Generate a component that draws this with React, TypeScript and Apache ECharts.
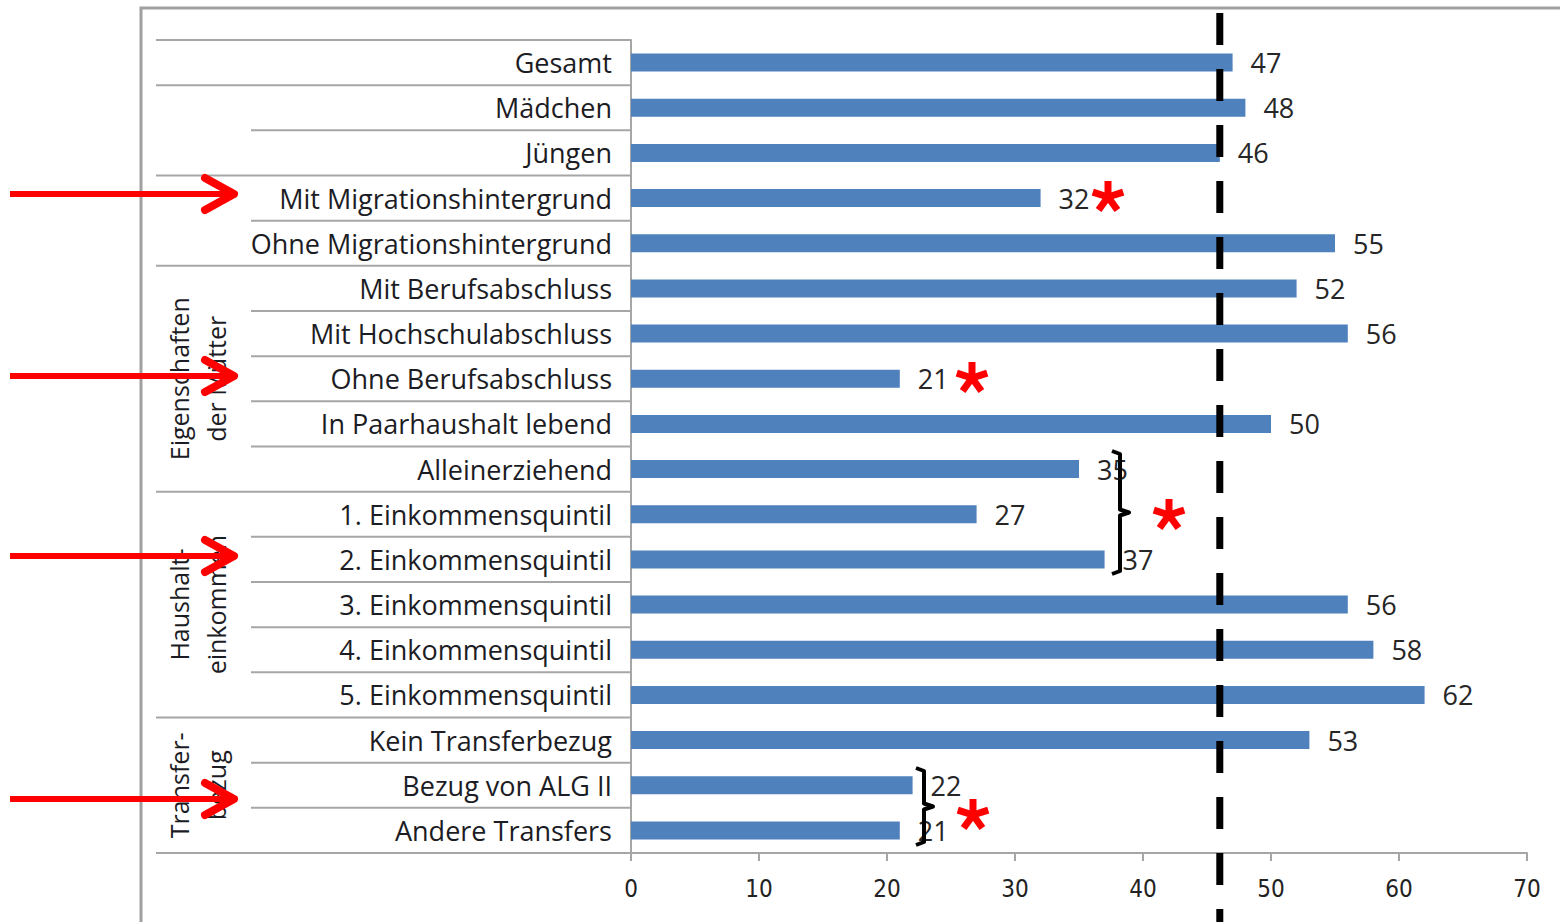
import React, { useEffect, useRef } from "react";
import * as echarts from "echarts";

const categories = [
  "Gesamt",
  "Mädchen",
  "Jüngen",
  "Mit Migrationshintergrund",
  "Ohne Migrationshintergrund",
  "Mit Berufsabschluss",
  "Mit Hochschulabschluss",
  "Ohne Berufsabschluss",
  "In Paarhaushalt lebend",
  "Alleinerziehend",
  "1. Einkommensquintil",
  "2. Einkommensquintil",
  "3. Einkommensquintil",
  "4. Einkommensquintil",
  "5. Einkommensquintil",
  "Kein Transferbezug",
  "Bezug von ALG II",
  "Andere Transfers",
];
const values = [47, 48, 46, 32, 55, 52, 56, 21, 50, 35, 27, 37, 56, 58, 62, 53, 22, 21];
const referenceValue = 46;
const axisMin = 0;
const axisMax = 70;
const axisStep = 10;
// indices of rows that start a new group (full-width separator above them)
const groupStarts = [1, 3, 5, 10, 15];
const groupTitles = [
  { text: "Eigenschaften\nder Mütter", first: 5, last: 9 },
  { text: "Haushalt-\neinkommen", first: 10, last: 14 },
  { text: "Transfer-\nbezug", first: 15, last: 17 },
];

const FONT = "'Open Sans', Lato, sans-serif";
const GRAY = "#a6a6a6";

function asterisk(cx: number, cy: number) {
  const arms = [];
  for (let k = 0; k < 5; k++) {
    const a = -Math.PI / 2 + (k * 2 * Math.PI) / 5;
    arms.push({
      type: "line",
      shape: { x1: cx, y1: cy, x2: cx + 16 * Math.cos(a), y2: cy + 16 * Math.sin(a) },
      style: { stroke: "#ff0000", lineWidth: 7, lineCap: "butt" },
      z: 20,
    });
  }
  return arms;
}

function arrow(y: number) {
  return [
    {
      type: "polyline",
      shape: { points: [[10, y], [232, y]] },
      style: { stroke: "#ff0000", lineWidth: 6, fill: null },
      z: 30,
    },
    {
      type: "polyline",
      shape: { points: [[205, y - 16], [234, y], [205, y + 16]] },
      style: { stroke: "#ff0000", lineWidth: 8, fill: null, lineCap: "round", lineJoin: "round" },
      z: 30,
    },
  ];
}

function bracket(x: number, top: number, bottom: number) {
  const mid = (top + bottom) / 2;
  return {
    type: "polyline",
    shape: {
      points: [
        [x - 8, top],
        [x, top + 3],
        [x, mid - 3],
        [x + 9, mid],
        [x, mid + 3],
        [x, bottom - 3],
        [x - 8, bottom],
      ],
    },
    style: { stroke: "#000", lineWidth: 4, fill: null, lineJoin: "round" },
    z: 20,
  };
}

export default function App() {
  const ref = useRef<HTMLDivElement>(null);
  useEffect(() => {
    const chart = echarts.init(ref.current!, null, { renderer: "svg" });
    chart.setOption({
      animation: false,
      grid: { left: 631, right: 33, top: 40, bottom: 69, containLabel: false },
      xAxis: {
        type: "value",
        min: axisMin,
        max: axisMax,
        interval: axisStep,
        axisLine: { show: true, lineStyle: { color: GRAY, width: 2 } },
        axisTick: { show: true, length: 8, lineStyle: { color: GRAY, width: 2 } },
        splitLine: { show: false },
        axisLabel: {
          margin: 24,
          fontSize: 24,
          color: "#222",
          fontFamily: "'Liberation Sans Narrow', 'DejaVu Sans Condensed', Lato, sans-serif",
        },
      },
      yAxis: {
        type: "category",
        inverse: true,
        data: categories,
        axisLine: { show: true, lineStyle: { color: GRAY, width: 2 } },
        axisTick: { show: false },
        axisLabel: { margin: 19, fontSize: 27, color: "#1c1c24", fontFamily: FONT, padding: [0, 0, 8, 0] },
      },
      series: [
        {
          type: "bar",
          data: values,
          barWidth: 18,
          itemStyle: { color: "#4f81bd" },
          label: {
            show: true,
            position: "right",
            distance: 18,
            fontSize: 27,
            color: "#262626",
            fontFamily: FONT,
          },
        },
      ],
    });

    const c0 = chart.convertToPixel({ yAxisIndex: 0 }, categories[0]) as number;
    const c1 = chart.convertToPixel({ yAxisIndex: 0 }, categories[1]) as number;
    const h = c1 - c0;
    const boundary = (k: number) => c0 - h / 2 + k * h;
    const xZero = chart.convertToPixel({ xAxisIndex: 0 }, axisMin) as number;
    const xRef = chart.convertToPixel({ xAxisIndex: 0 }, referenceValue) as number;

    const graphics: any[] = [];
    graphics.push({
      type: "rect",
      shape: { x: 141, y: 8, width: 1500, height: 1000 },
      style: { stroke: "#a0a0a0", lineWidth: 3, fill: null },
      z: 1,
    });
    for (let k = 0; k <= categories.length; k++) {
      const full = k === 0 || k === categories.length || groupStarts.includes(k);
      graphics.push({
        type: "line",
        shape: { x1: full ? 156 : 251, y1: boundary(k), x2: xZero, y2: boundary(k) },
        style: { stroke: GRAY, lineWidth: 2 },
        z: 5,
      });
    }
    groupTitles.forEach((g) => {
      const cy = (boundary(g.first) + boundary(g.last + 1)) / 2;
      graphics.push({
        type: "text",
        x: 197,
        y: cy,
        rotation: Math.PI / 2,
        style: {
          text: g.text,
          x: 0,
          y: 0,
          align: "center",
          verticalAlign: "middle",
          fontSize: 25,
          lineHeight: 37,
          fontFamily: FONT,
          fill: "#1c1c24",
        },
        z: 10,
      });
    });
    graphics.push({
      type: "line",
      shape: { x1: xRef, y1: 13, x2: xRef, y2: 922 },
      style: { stroke: "#000", lineWidth: 7, lineDash: [32, 24] },
      z: 15,
    });
    graphics.push(bracket(1120, 451, 574));
    graphics.push(bracket(924, 768, 845));
    graphics.push(...asterisk(1108, 197));
    graphics.push(...asterisk(972, 378));
    graphics.push(...asterisk(1169, 515));
    graphics.push(...asterisk(973, 815));
    graphics.push(...arrow(194));
    graphics.push(...arrow(376));
    graphics.push(...arrow(556));
    graphics.push(...arrow(799));

    chart.setOption({ graphic: graphics });
    return () => chart.dispose();
  }, []);
  return (
    <div
      ref={ref}
      style={{ position: "fixed", left: 0, top: 0, width: 1560, height: 922, background: "#fff" }}
    />
  );
}
